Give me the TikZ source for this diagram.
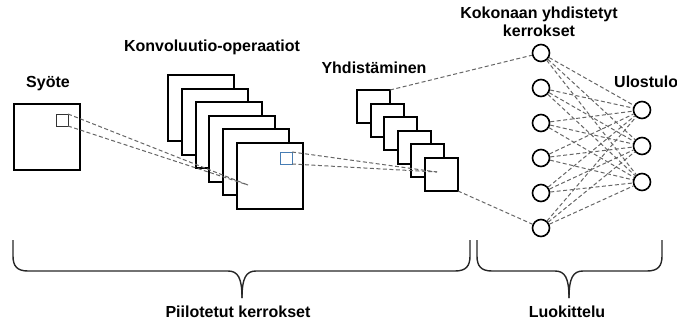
\documentclass[tikz,border=0pt]{standalone}
\usepackage{fontspec}
\setmainfont{Liberation Sans}
\begin{document}
\begin{tikzpicture}[x=1pt,y=-1pt,
  lbl/.style={font=\bfseries\fontsize{16}{19}\selectfont, anchor=base, inner sep=0pt},
  map/.style={draw=black, fill=white, line width=2pt, inner sep=0pt, outer sep=0pt,
              minimum size=66pt, anchor=north west},
  poolmap/.style={map, minimum size=33pt},
  patch/.style={draw=black!80, line width=1pt, inner sep=0pt, outer sep=0pt,
                minimum size=12pt, anchor=north west},
  neuron/.style={circle, draw=black, fill=white, line width=1.6pt, inner sep=0pt,
                 minimum size=17pt},
  link/.style={draw=black!60, line width=1pt, dash pattern=on 4pt off 2.5pt},
  bracepath/.style={draw=black!85, line width=1.4pt}]
\useasboundingbox (0,0) rectangle (677,322);

% input image with its receptive field
\node[map] (in) at (14,104) {};
\node[patch] (inpatch) at (56,114) {};
\node[lbl] (tin) at (48,87) {Syöte};

% stack of convolution feature maps
\foreach \x/\y [count=\i] in {168/75,182/89,196/102,209/116,223/129,237/143}
  \node[map] (c\i) at (\x,\y) {};
\node[patch, draw={rgb,255:red,70;green,125;blue,180}] (cpatch) at (280,152) {};
\node[lbl] (tconv) at (212,51) {Konvoluutio-operaatiot};

% stack of pooled maps
\foreach \x/\y [count=\i] in {357/90,371/104,384/117,398/131,411/144,425/158}
  \node[poolmap] (p\i) at (\x,\y) {};
\node[lbl] (tpool) at (374,73) {Yhdistäminen};

% convergence points of the receptive fields
\coordinate (cfocus) at (248,185);
\coordinate (pfocus) at (437,172);

% fully connected layer and output layer
\foreach \i in {1,...,6}
  \node[neuron] (f\i) at (541,{53+35*(\i-1)}) {};
\foreach \j in {1,2,3}
  \node[neuron] (o\j) at (642,{110+36*(\j-1)}) {};
\node[lbl] (tfc1) at (539,18) {Kokonaan yhdistetyt};
\node[lbl] (tfc2) at (539,36) {kerrokset};
\node[lbl, anchor=base west] (tout) at (614,87) {Ulostulo};

% dashed connectors
\draw[link] (inpatch.north east) -- (cfocus);
\draw[link] (inpatch.south east) -- (cfocus);
\draw[link] (cpatch.north east) -- (pfocus);
\draw[link] (cpatch.south east) -- (pfocus);
\draw[link] (p1.north east) -- (f1);
\draw[link] (p6.south east) -- (f6);
\foreach \i in {1,...,6}
  \foreach \j in {1,2,3}
    \draw[link] (f\i) -- (o\j);

% group braces
\draw[bracepath] (13,240) -- (13,256) .. controls (13,266) and (17,271) .. (28,271)
  -- (228,271) .. controls (238,271) and (242,278) .. (242,298);
\draw[bracepath] (470,240) -- (470,256) .. controls (470,266) and (466,271) .. (455,271)
  -- (256,271) .. controls (246,271) and (242,278) .. (242,298);
\draw[bracepath] (477,240) -- (477,256) .. controls (477,266) and (481,271) .. (492,271)
  -- (555,271) .. controls (565,271) and (569,278) .. (569,298);
\draw[bracepath] (662,240) -- (662,256) .. controls (662,266) and (658,271) .. (647,271)
  -- (583,271) .. controls (573,271) and (569,278) .. (569,298);
\node[lbl] (thid) at (238,317) {Piilotetut kerrokset};
\node[lbl] (tcls) at (567,317) {Luokittelu};
\end{tikzpicture}
\end{document}
